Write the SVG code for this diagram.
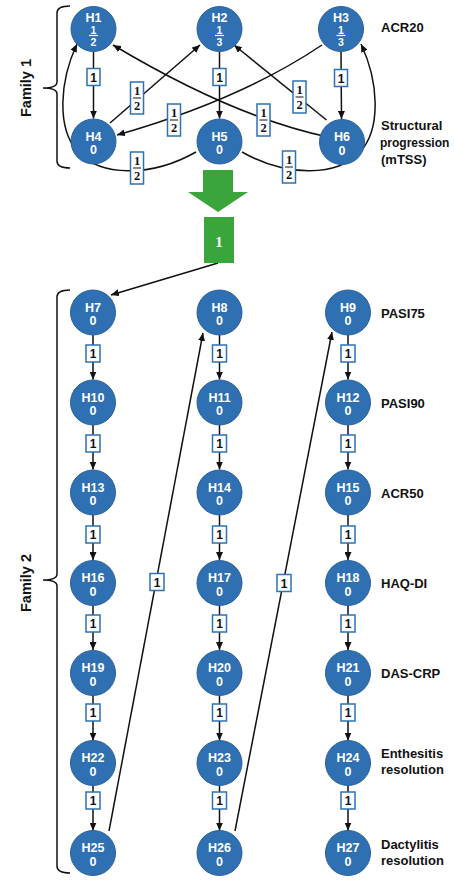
<svg xmlns="http://www.w3.org/2000/svg" width="454" height="882" viewBox="0 0 454 882">
  <defs>
    <style>
      .node circle { fill: #2f70b2; stroke: #2a6099; stroke-width: 1; }
      .nl { font-family: "Liberation Sans", Arial, sans-serif; font-weight: bold; font-size: 12.5px; fill: #ffffff; text-anchor: middle; }
      .nf { font-family: "Liberation Sans", Arial, sans-serif; font-weight: bold; font-size: 10.5px; fill: #ffffff; text-anchor: middle; }
      .nbar { stroke: #ffffff; stroke-width: 1.2; }
      .edge { fill: none; stroke: #111111; stroke-width: 1.5; marker-end: url(#arrow); }
      .lbl rect { fill: #ffffff; stroke: #2e72b4; stroke-width: 1.5; }
      .lbl text { font-family: "Liberation Sans", Arial, sans-serif; font-weight: bold; font-size: 12px; fill: #111111; text-anchor: middle; }
      .lbl .fd { font-family: "Liberation Serif", "Times New Roman", serif; font-size: 12.5px; }
      .lbl line { stroke: #111111; stroke-width: 1; }
      .side { font-family: "Liberation Sans", Arial, sans-serif; font-weight: bold; font-size: 13px; fill: #111111; }
      .side.narrow { font-size: 12px; }
      .fam { font-family: "Liberation Sans", Arial, sans-serif; font-weight: bold; font-size: 14.5px; fill: #111111; text-anchor: middle; }
      .brace { fill: none; stroke: #111111; stroke-width: 1.5; }
    </style>
    <marker id="arrow" viewBox="0 0 8 7" refX="8" refY="3.5" markerWidth="8" markerHeight="7" markerUnits="userSpaceOnUse" orient="auto">
      <path d="M0,0 L8,3.5 L0,7 z" fill="#111111"/>
    </marker>
  </defs>
  <rect width="454" height="882" fill="#ffffff"/>

  <!-- family labels and braces -->
  <g id="family1-brace">
    <path class="brace" d="M70,6 Q57,6 57,13 L57,82 Q57,88 43,88 Q57,88 57,94 L57,161 Q57,168 70,168"/>
    <text class="fam" transform="translate(31,88) rotate(-90)">Family 1</text>
  </g>
  <g id="family2-brace">
    <path class="brace" d="M70,290 Q57,290 57,297 L57,574 Q57,580 43,580 Q57,580 57,586 L57,866 Q57,873 70,873"/>
    <text class="fam" transform="translate(31,583) rotate(-90)">Family 2</text>
  </g>

  <!-- connectors -->
  <g id="connectors">
    <!-- family 1 -->
    <line class="edge" x1="93.5" y1="51.5" x2="93.5" y2="118.5"/>
    <line class="edge" x1="219.5" y1="51.5" x2="219.5" y2="118.5"/>
    <line class="edge" x1="341" y1="51.5" x2="341.5" y2="119"/>
    <path class="edge" d="M110,123 L200,45"/>
    <path class="edge" d="M326.5,120 L234,45"/>
    <path class="edge" d="M328,137 Q233.5,117 113,45"/>
    <path class="edge" d="M322,45 Q240,100 117,135"/>
    <path class="edge" d="M196,152 C150,178 100,176 78,152 S60,80 77,44"/>
    <path class="edge" d="M242,152 C288,178 338,176 360,152 S378,80 361,44"/>
    <!-- family 1 to family 2 -->
    <path class="edge" d="M218,263 L111,295"/>
    <!-- family 2 columns -->
    <line class="edge" x1="93" y1="335" x2="93" y2="379.5"/>
    <line class="edge" x1="93" y1="425" x2="93" y2="469.5"/>
    <line class="edge" x1="93" y1="515" x2="93" y2="560"/>
    <line class="edge" x1="93" y1="605.5" x2="93" y2="650"/>
    <line class="edge" x1="93" y1="695.5" x2="93" y2="740.5"/>
    <line class="edge" x1="93" y1="785.5" x2="93" y2="830.5"/>
    <line class="edge" x1="219.5" y1="335" x2="219.5" y2="379.5"/>
    <line class="edge" x1="219.5" y1="425" x2="219.5" y2="469.5"/>
    <line class="edge" x1="219.5" y1="515" x2="219.5" y2="560"/>
    <line class="edge" x1="219.5" y1="605.5" x2="219.5" y2="650"/>
    <line class="edge" x1="219.5" y1="695.5" x2="219.5" y2="740.5"/>
    <line class="edge" x1="219.5" y1="785.5" x2="219.5" y2="830.5"/>
    <line class="edge" x1="348" y1="335" x2="348" y2="379.5"/>
    <line class="edge" x1="348" y1="425" x2="348" y2="469.5"/>
    <line class="edge" x1="348" y1="515" x2="348" y2="560"/>
    <line class="edge" x1="348" y1="605.5" x2="348" y2="650"/>
    <line class="edge" x1="348" y1="695.5" x2="348" y2="740.5"/>
    <line class="edge" x1="348" y1="785.5" x2="348" y2="830.5"/>
    <path class="edge" d="M109,831 L203,333"/>
    <path class="edge" d="M235,831 L332,332"/>

    <!-- weights: family 1 -->
    <g class="lbl"><rect x="87" y="68.5" width="13" height="17"/><text x="93.5" y="81.5">1</text></g>
    <g class="lbl"><rect x="213" y="68.5" width="13" height="17"/><text x="219.5" y="81.5">1</text></g>
    <g class="lbl"><rect x="334.5" y="69.5" width="13" height="17"/><text x="341" y="82.5">1</text></g>
    <g class="lbl"><rect x="130.5" y="82" width="13" height="32"/><text class="fd" x="137" y="95">1</text><line x1="133" y1="98" x2="141" y2="98"/><text class="fd" x="137" y="110">2</text></g>
    <g class="lbl"><rect x="293" y="81" width="13" height="32"/><text class="fd" x="299.5" y="94">1</text><line x1="295.5" y1="97" x2="303.5" y2="97"/><text class="fd" x="299.5" y="109">2</text></g>
    <g class="lbl"><rect x="257" y="104" width="13" height="32"/><text class="fd" x="263.5" y="117">1</text><line x1="259.5" y1="120" x2="267.5" y2="120"/><text class="fd" x="263.5" y="132">2</text></g>
    <g class="lbl"><rect x="167.5" y="104" width="13" height="32"/><text class="fd" x="174" y="117">1</text><line x1="170" y1="120" x2="178" y2="120"/><text class="fd" x="174" y="132">2</text></g>
    <g class="lbl"><rect x="130.5" y="152" width="13" height="32"/><text class="fd" x="137" y="165">1</text><line x1="133" y1="168" x2="141" y2="168"/><text class="fd" x="137" y="180">2</text></g>
    <g class="lbl"><rect x="282.5" y="151" width="13" height="32"/><text class="fd" x="289" y="164">1</text><line x1="285" y1="167" x2="293" y2="167"/><text class="fd" x="289" y="179">2</text></g>

    <!-- weights: family 2 -->
    <g class="lbl"><rect x="86" y="345" width="14" height="17"/><text x="93" y="358">1</text></g>
    <g class="lbl"><rect x="86" y="435" width="14" height="17"/><text x="93" y="448">1</text></g>
    <g class="lbl"><rect x="86" y="526" width="14" height="17"/><text x="93" y="539">1</text></g>
    <g class="lbl"><rect x="86" y="615" width="14" height="17"/><text x="93" y="628">1</text></g>
    <g class="lbl"><rect x="86" y="704" width="14" height="17"/><text x="93" y="717">1</text></g>
    <g class="lbl"><rect x="86" y="792" width="14" height="17"/><text x="93" y="805">1</text></g>
    <g class="lbl"><rect x="212.5" y="345" width="14" height="17"/><text x="219.5" y="358">1</text></g>
    <g class="lbl"><rect x="212.5" y="435" width="14" height="17"/><text x="219.5" y="448">1</text></g>
    <g class="lbl"><rect x="212.5" y="526" width="14" height="17"/><text x="219.5" y="539">1</text></g>
    <g class="lbl"><rect x="212.5" y="615" width="14" height="17"/><text x="219.5" y="628">1</text></g>
    <g class="lbl"><rect x="212.5" y="704" width="14" height="17"/><text x="219.5" y="717">1</text></g>
    <g class="lbl"><rect x="212.5" y="792" width="14" height="17"/><text x="219.5" y="805">1</text></g>
    <g class="lbl"><rect x="341" y="345" width="14" height="17"/><text x="348" y="358">1</text></g>
    <g class="lbl"><rect x="341" y="435" width="14" height="17"/><text x="348" y="448">1</text></g>
    <g class="lbl"><rect x="341" y="526" width="14" height="17"/><text x="348" y="539">1</text></g>
    <g class="lbl"><rect x="341" y="615" width="14" height="17"/><text x="348" y="628">1</text></g>
    <g class="lbl"><rect x="341" y="704" width="14" height="17"/><text x="348" y="717">1</text></g>
    <g class="lbl"><rect x="341" y="792" width="14" height="17"/><text x="348" y="805">1</text></g>
    <g class="lbl"><rect x="150" y="573.5" width="14" height="17"/><text x="157" y="586.5">1</text></g>
    <g class="lbl"><rect x="277" y="574.5" width="14" height="17"/><text x="284" y="587.5">1</text></g>
  </g>

  <!-- transfer from family 1 to family 2 -->
  <g id="transfer">
    <polygon points="203,170 233,170 233,192 248,192 218,212 188,192 203,192" fill="#3aa53a"/>
    <rect x="204" y="217" width="30" height="46" fill="#3aa53a"/>
    <text x="219" y="247" font-family="Liberation Serif, serif" font-weight="bold" font-size="15" fill="#ffffff" text-anchor="middle">1</text>
  </g>

  <!-- family 1 nodes -->
  <g id="H1" class="node"><circle cx="93.5" cy="29" r="22.5"/><text class="nl" x="93.5" y="22">H1</text><text class="nf" x="93.5" y="33.5">1</text><line class="nbar" x1="89" y1="35.5" x2="98" y2="35.5"/><text class="nf" x="93.5" y="45.5">2</text></g>
  <g id="H2" class="node"><circle cx="219.5" cy="29" r="22.5"/><text class="nl" x="219.5" y="22">H2</text><text class="nf" x="219.5" y="33.5">1</text><line class="nbar" x1="215" y1="35.5" x2="224" y2="35.5"/><text class="nf" x="219.5" y="45.5">3</text></g>
  <g id="H3" class="node"><circle cx="341" cy="29" r="22.5"/><text class="nl" x="341" y="22">H3</text><text class="nf" x="341" y="33.5">1</text><line class="nbar" x1="336.5" y1="35.5" x2="345.5" y2="35.5"/><text class="nf" x="341" y="45.5">3</text></g>
  <g id="H4" class="node"><circle cx="93.5" cy="141.5" r="22.5"/><text class="nl" x="93.5" y="140.5">H4</text><text class="nl" x="93.5" y="154">0</text></g>
  <g id="H5" class="node"><circle cx="219.5" cy="141.5" r="22.5"/><text class="nl" x="219.5" y="140.5">H5</text><text class="nl" x="219.5" y="154">0</text></g>
  <g id="H6" class="node"><circle cx="342" cy="142" r="22.5"/><text class="nl" x="342" y="141">H6</text><text class="nl" x="342" y="154.5">0</text></g>

  <!-- family 2 nodes -->
  <g id="H7" class="node"><circle cx="93" cy="312.5" r="22.5"/><text class="nl" x="93" y="311.5">H7</text><text class="nl" x="93" y="325">0</text></g>
  <g id="H8" class="node"><circle cx="219.5" cy="312.5" r="22.5"/><text class="nl" x="219.5" y="311.5">H8</text><text class="nl" x="219.5" y="325">0</text></g>
  <g id="H9" class="node"><circle cx="348" cy="312.5" r="22.5"/><text class="nl" x="348" y="311.5">H9</text><text class="nl" x="348" y="325">0</text></g>
  <g id="H10" class="node"><circle cx="93" cy="402.5" r="22.5"/><text class="nl" x="93" y="401.5">H10</text><text class="nl" x="93" y="415">0</text></g>
  <g id="H11" class="node"><circle cx="219.5" cy="402.5" r="22.5"/><text class="nl" x="219.5" y="401.5">H11</text><text class="nl" x="219.5" y="415">0</text></g>
  <g id="H12" class="node"><circle cx="348" cy="402.5" r="22.5"/><text class="nl" x="348" y="401.5">H12</text><text class="nl" x="348" y="415">0</text></g>
  <g id="H13" class="node"><circle cx="93" cy="492.5" r="22.5"/><text class="nl" x="93" y="491.5">H13</text><text class="nl" x="93" y="505">0</text></g>
  <g id="H14" class="node"><circle cx="219.5" cy="492.5" r="22.5"/><text class="nl" x="219.5" y="491.5">H14</text><text class="nl" x="219.5" y="505">0</text></g>
  <g id="H15" class="node"><circle cx="348" cy="492.5" r="22.5"/><text class="nl" x="348" y="491.5">H15</text><text class="nl" x="348" y="505">0</text></g>
  <g id="H16" class="node"><circle cx="93" cy="583" r="22.5"/><text class="nl" x="93" y="582">H16</text><text class="nl" x="93" y="595.5">0</text></g>
  <g id="H17" class="node"><circle cx="219.5" cy="583" r="22.5"/><text class="nl" x="219.5" y="582">H17</text><text class="nl" x="219.5" y="595.5">0</text></g>
  <g id="H18" class="node"><circle cx="348" cy="583" r="22.5"/><text class="nl" x="348" y="582">H18</text><text class="nl" x="348" y="595.5">0</text></g>
  <g id="H19" class="node"><circle cx="93" cy="673" r="22.5"/><text class="nl" x="93" y="672">H19</text><text class="nl" x="93" y="685.5">0</text></g>
  <g id="H20" class="node"><circle cx="219.5" cy="673" r="22.5"/><text class="nl" x="219.5" y="672">H20</text><text class="nl" x="219.5" y="685.5">0</text></g>
  <g id="H21" class="node"><circle cx="348" cy="673" r="22.5"/><text class="nl" x="348" y="672">H21</text><text class="nl" x="348" y="685.5">0</text></g>
  <g id="H22" class="node"><circle cx="93" cy="763" r="22.5"/><text class="nl" x="93" y="762">H22</text><text class="nl" x="93" y="775.5">0</text></g>
  <g id="H23" class="node"><circle cx="219.5" cy="763" r="22.5"/><text class="nl" x="219.5" y="762">H23</text><text class="nl" x="219.5" y="775.5">0</text></g>
  <g id="H24" class="node"><circle cx="348" cy="763" r="22.5"/><text class="nl" x="348" y="762">H24</text><text class="nl" x="348" y="775.5">0</text></g>
  <g id="H25" class="node"><circle cx="93" cy="853" r="22.5"/><text class="nl" x="93" y="852">H25</text><text class="nl" x="93" y="865.5">0</text></g>
  <g id="H26" class="node"><circle cx="219.5" cy="853" r="22.5"/><text class="nl" x="219.5" y="852">H26</text><text class="nl" x="219.5" y="865.5">0</text></g>
  <g id="H27" class="node"><circle cx="348" cy="853" r="22.5"/><text class="nl" x="348" y="852">H27</text><text class="nl" x="348" y="865.5">0</text></g>

  <!-- endpoint names -->
  <g id="endpoints">
    <text class="side" x="381" y="32">ACR20</text>
    <text class="side" x="381" y="130">Structural</text>
    <text class="side narrow" x="380" y="147">progression</text>
    <text class="side" x="381" y="164">(mTSS)</text>
    <text class="side" x="381" y="317.5">PASI75</text>
    <text class="side" x="381" y="407.5">PASI90</text>
    <text class="side" x="381" y="497.5">ACR50</text>
    <text class="side" x="381" y="588">HAQ-DI</text>
    <text class="side" x="381" y="678">DAS-CRP</text>
    <text class="side" x="381" y="758">Enthesitis</text>
    <text class="side" x="381" y="774">resolution</text>
    <text class="side" x="381" y="849">Dactylitis</text>
    <text class="side" x="381" y="865">resolution</text>
  </g>
</svg>
